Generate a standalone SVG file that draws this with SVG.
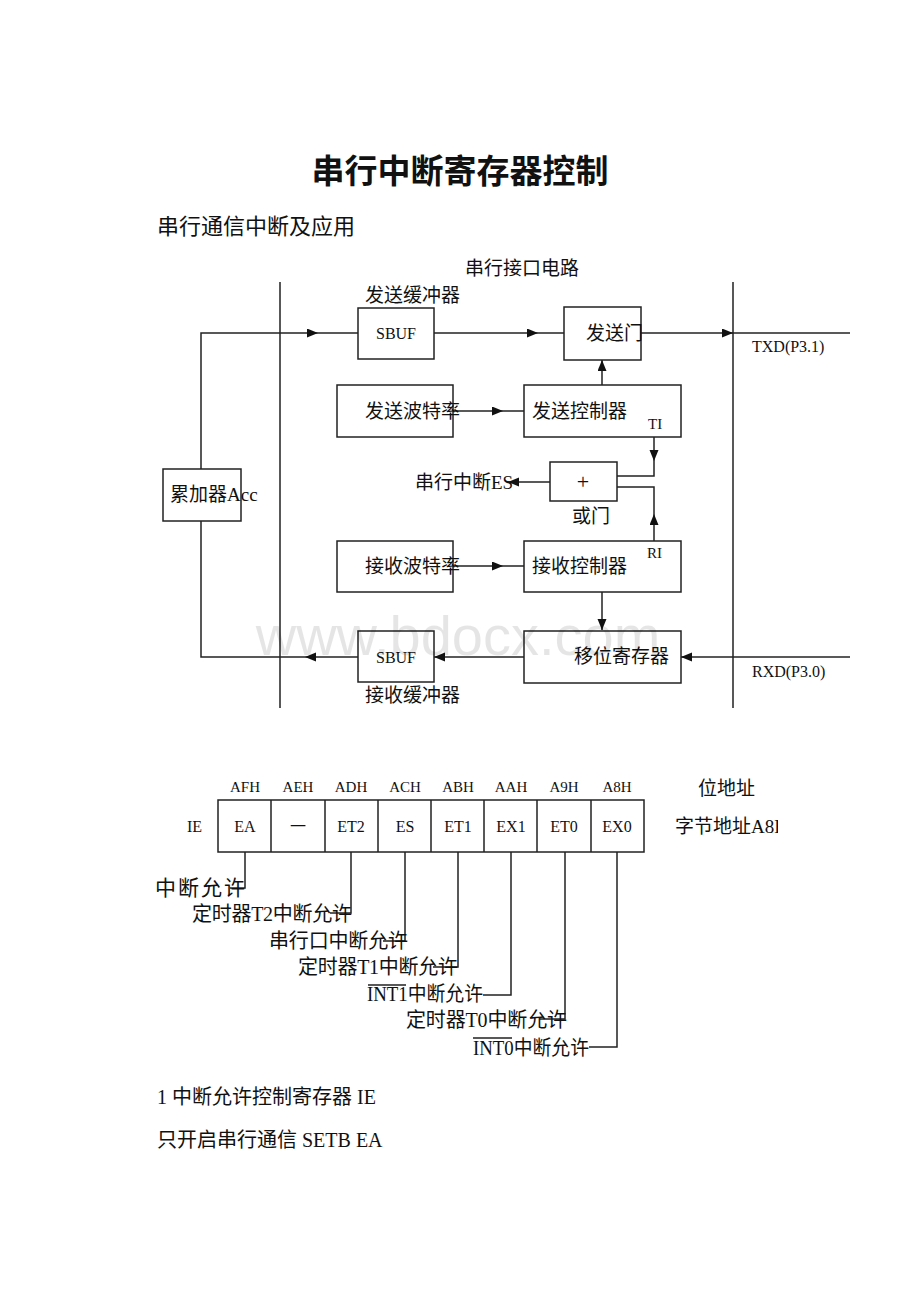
<svg xmlns="http://www.w3.org/2000/svg" width="920" height="1302" viewBox="0 0 920 1302">
<style>
text{font-family:"Liberation Serif","Noto Sans CJK SC",serif;fill:#111}
.cn{font-size:19px}
.ld{font-size:20px}
.en{font-size:15px}
.box{fill:none;stroke:#222;stroke-width:1.5}
.ln{fill:none;stroke:#222;stroke-width:1.5}
.ar{fill:none;stroke:#222;stroke-width:1.5;marker-end:url(#ah)}
.mid{text-anchor:middle}
</style>
<defs>
<marker id="ah" markerUnits="userSpaceOnUse" markerWidth="12" markerHeight="10" refX="11" refY="4.5" orient="auto">
<path d="M0,0 L11,4.5 L0,9 z" fill="#111"/>
</marker>
<clipPath id="clipA8"><rect x="600" y="800" width="178" height="40"/></clipPath>
</defs>
<rect width="920" height="1302" fill="#fff"/>
<text x="460" y="183" class="mid" style="font-size:33px;font-weight:bold">串行中断寄存器控制</text>
<text x="157" y="234" style="font-size:22px">串行通信中断及应用</text>

<g id="frame">
<path class="ln" d="M280,282 V708 M733,282 V708"/>
<text x="522" y="275" class="cn mid">串行接口电路</text>
</g>

<g id="connectors">
<path class="ar" d="M201,469 V333 H318"/><path class="ln" d="M318,333 H358"/>
<path class="ar" d="M434,333 H538"/><path class="ln" d="M538,333 H564"/>
<path class="ar" d="M641,333 H733"/><path class="ln" d="M733,333 H850"/>
<path class="ar" d="M602,385 V360"/>
<path class="ar" d="M453,411 H503"/><path class="ln" d="M503,411 H524"/>
<path class="ar" d="M453,566 H503"/><path class="ln" d="M503,566 H524"/>
<path class="ar" d="M654,437 V461"/><path class="ln" d="M654,461 V476 H617"/>
<path class="ar" d="M654,541 V514"/><path class="ln" d="M654,514 V487 H617"/>
<path class="ar" d="M550,482 H508"/>
<path class="ar" d="M602,592 V630"/>
<path class="ar" d="M850,657 H681"/>
<path class="ar" d="M524,657 H434"/>
<path class="ar" d="M358,657 H305"/><path class="ln" d="M305,657 H201 V521"/>
</g>

<g id="sbuf-tx">
<text x="365" y="302" class="cn">发送缓冲器</text>
<rect class="box" x="358" y="308" width="76" height="51"/>
<text x="396" y="339" class="mid" style="font-size:16px">SBUF</text>
</g>
<g id="tx-gate">
<rect class="box" x="564" y="307" width="77" height="53"/>
<text x="586" y="340" class="cn">发送门</text>
</g>
<g id="tx-baud">
<rect class="box" x="337" y="385" width="116" height="52"/>
<text x="365" y="418" class="cn">发送波特率</text>
</g>
<g id="tx-ctrl">
<rect class="box" x="524" y="385" width="157" height="52"/>
<text x="532" y="418" class="cn">发送控制器</text>
<text x="648" y="429" style="font-size:15px">TI</text>
</g>
<g id="acc">
<rect class="box" x="163" y="469" width="78" height="52"/>
<text x="170" y="501" class="cn">累加器Acc</text>
</g>
<g id="or-gate">
<rect class="box" x="550" y="462" width="67" height="39"/>
<text x="583" y="489" class="mid" style="font-size:22px;font-weight:300">+</text>
<text x="572" y="523" class="cn">或门</text>
<text x="415" y="489" class="cn">串行中断ES</text>
</g>
<g id="rx-baud">
<rect class="box" x="337" y="541" width="116" height="51"/>
<text x="365" y="573" class="cn">接收波特率</text>
</g>
<g id="rx-ctrl">
<rect class="box" x="524" y="541" width="157" height="51"/>
<text x="532" y="573" class="cn">接收控制器</text>
<text x="647" y="558" style="font-size:15px">RI</text>
</g>
<g id="shift-reg">
<rect class="box" x="524" y="631" width="157" height="52"/>
<text x="574" y="663" class="cn">移位寄存器</text>
</g>
<g id="sbuf-rx">
<rect class="box" x="358" y="631" width="76" height="51"/>
<text x="396" y="663" class="mid" style="font-size:16px">SBUF</text>
<text x="365" y="702" class="cn">接收缓冲器</text>
</g>
<g id="ports">
<text x="752" y="352" style="font-size:16px">TXD(P3.1)</text>
<text x="752" y="677" style="font-size:16px">RXD(P3.0)</text>
</g>

<g id="ie-register">
<text x="187" y="832" style="font-size:16px">IE</text>
<rect class="box" x="218" y="800" width="426" height="52"/>
<path class="ln" d="M271,800 V852 M325,800 V852 M378,800 V852 M431,800 V852 M484,800 V852 M537,800 V852 M591,800 V852"/>
<g class="en">
<text x="245" y="792" class="mid">AFH</text>
<text x="298" y="792" class="mid">AEH</text>
<text x="351" y="792" class="mid">ADH</text>
<text x="405" y="792" class="mid">ACH</text>
<text x="458" y="792" class="mid">ABH</text>
<text x="511" y="792" class="mid">AAH</text>
<text x="564" y="792" class="mid">A9H</text>
<text x="617" y="792" class="mid">A8H</text>
</g>
<g style="font-size:16px">
<text x="245" y="832" class="mid">EA</text>
<text x="298" y="832" class="mid">一</text>
<text x="351" y="832" class="mid">ET2</text>
<text x="405" y="832" class="mid">ES</text>
<text x="458" y="832" class="mid">ET1</text>
<text x="511" y="832" class="mid">EX1</text>
<text x="564" y="832" class="mid">ET0</text>
<text x="617" y="832" class="mid">EX0</text>
</g>
<text x="698" y="795" class="cn">位地址</text>
<text x="675" y="833" class="cn" clip-path="url(#clipA8)">字节地址A8H</text>
</g>

<g id="ie-leaders">
<path class="ln" d="M245,852 V888 H230"/>
<path class="ln" d="M351,852 V913 H330"/>
<path class="ln" d="M405,852 V941 H383"/>
<path class="ln" d="M458,852 V967 H433"/>
<path class="ln" d="M511,852 V995 H483"/>
<path class="ln" d="M565,852 V1019 H540"/>
<path class="ln" d="M617,852 V1047 H589"/>
<path class="ln" d="M368,985 H406 M473,1038 H512"/>
</g>
<g id="ie-labels" class="ld">
<text x="155" y="895" textLength="90" lengthAdjust="spacing" style="font-size:21px">中断允许</text>
<text x="192" y="921" textLength="160" lengthAdjust="spacing">定时器T2中断允许</text>
<text x="269" y="948" textLength="139" lengthAdjust="spacing">串行口中断允许</text>
<text x="298" y="974" textLength="160" lengthAdjust="spacing">定时器T1中断允许</text>
<text x="367" y="1001" textLength="116" lengthAdjust="spacingAndGlyphs">INT1中断允许</text>
<text x="406" y="1027" textLength="161" lengthAdjust="spacing">定时器T0中断允许</text>
<text x="473" y="1055" textLength="116" lengthAdjust="spacingAndGlyphs">INT0中断允许</text>
</g>

<text x="157" y="1104" style="font-size:20px">1 中断允许控制寄存器 IE</text>
<text x="157" y="1147" style="font-size:20px">只开启串行通信 SETB EA</text>

<text x="458" y="655" class="mid" style="font-family:'Liberation Sans',sans-serif;font-size:56px;fill:#000;fill-opacity:0.1">www.bdocx.com</text>
</svg>
